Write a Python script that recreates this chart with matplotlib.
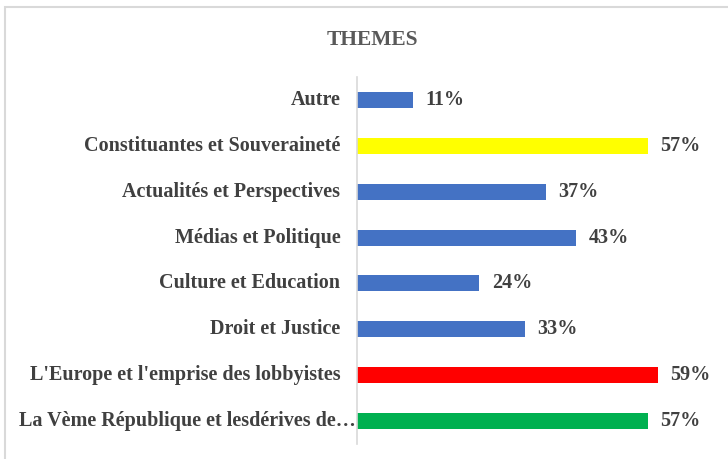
import matplotlib.pyplot as plt
from matplotlib.patches import Rectangle

# données (de bas en haut)
themes = [
    "La Vème République et lesdérives de…",
    "L'Europe et l'emprise des lobbyistes",
    "Droit et Justice",
    "Culture et Education",
    "Médias et Politique",
    "Actualités et Perspectives",
    "Constituantes et Souveraineté",
    "Autre",
]
pourcentages = [57, 59, 33, 24, 43, 37, 57, 11]
couleurs = ["#00B050", "#FF0000", "#4472C4", "#4472C4",
            "#4472C4", "#4472C4", "#FFFF00", "#4472C4"]

plt.rcParams["font.family"] = ["Liberation Serif", "DejaVu Serif"]
plt.rcParams["font.weight"] = "bold"

fig = plt.figure(figsize=(7.28, 4.59), dpi=100)
ax = fig.add_axes([357 / 728, 15 / 459, 357 / 728, 367 / 459])

y = range(len(themes))
ax.barh(y, pourcentages, height=0.35, color=couleurs)
ax.set_ylim(-0.5, len(themes) - 0.5)
ax.set_xlim(0, 70)

for yi, v in zip(y, pourcentages):
    ax.text(v + 2.4, yi, f"{v}%", va="center", ha="left",
            fontsize=14.5, fontweight="bold", color="#404040")

# étiquettes des catégories (la dernière, tronquée, touche l'axe)
for yi, t in zip(y, themes):
    dx = -1 if t.endswith("…") else -12
    ax.annotate(t, (0, yi), xycoords=("axes fraction", "data"),
                xytext=(dx, 0), textcoords="offset points",
                ha="right", va="center", fontsize=14.5,
                fontweight="bold", color="#404040")

ax.set_yticks([])
ax.set_xticks([])
for s in ["top", "right", "bottom"]:
    ax.spines[s].set_visible(False)
ax.spines["left"].set_color("#d9d9d9")
ax.spines["left"].set_linewidth(1.2)

fig.text(372 / 728, 1 - 40 / 459, "THEMES", ha="center", va="center",
         fontsize=15.5, fontweight="bold", color="#595959")

# cadre gris clair du graphique
fig.patches.append(Rectangle((5 / 728, -0.2), 1.2, 1 - 7 / 459 + 0.2,
                             transform=fig.transFigure, fill=False,
                             edgecolor="#d9d9d9", linewidth=1.5))

fig.savefig("out.png", dpi=100, facecolor="white")
